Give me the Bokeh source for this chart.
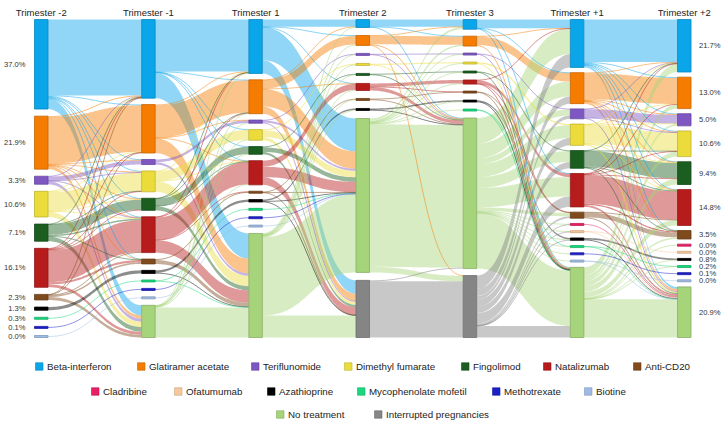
import numpy as np
from bokeh.plotting import figure
from bokeh.models import Range1d, ColumnDataSource
from bokeh.embed import file_html
from bokeh.resources import INLINE
from bokeh.core.properties import value

# ---------------- data ----------------
col_titles = ["Trimester -2", "Trimester -1", "Trimester 1", "Trimester 2",
              "Trimester 3", "Trimester +1", "Trimester +2"]

keys = ["BI", "GA", "TF", "DF", "FG", "NZ", "AC", "CL", "OF", "AZ", "MM", "MT", "BT", "NT", "IP"]
names = ["Beta-interferon", "Glatiramer acetate", "Teriflunomide", "Dimethyl fumarate",
         "Fingolimod", "Natalizumab", "Anti-CD20", "Cladribine", "Ofatumumab",
         "Azathioprine", "Mycophenolate mofetil", "Methotrexate", "Biotine",
         "No treatment", "Interrupted pregnancies"]
colors = ["#0ba5ea", "#f57c00", "#7e57c2", "#ebdc3b", "#1b5e20", "#b71c1c", "#7f4a1c",
          "#e91e63", "#f6c89b", "#000000", "#19d77c", "#1b1fc8", "#9dbbe3",
          "#a6d47b", "#858585"]

# node values (% of pregnancies) per trimester
t_m2 = dict(BI=37.0, GA=21.9, TF=3.3, DF=10.6, FG=7.1, NZ=16.1, AC=2.3, AZ=1.3, MM=0.3, MT=0.1, BT=0.02)
t_m1 = dict(BI=32.5, GA=20.0, TF=2.1, DF=8.6, FG=5.0, NZ=14.8, AC=2.0, AZ=1.3, MM=0.3, MT=0.1, BT=0.02, NT=13.3)
t_1 = dict(BI=22.3, GA=14.0, TF=1.3, DF=4.4, FG=3.2, NZ=10.0, AC=0.5, AZ=1.0, MM=0.2, MT=0.1, BT=0.02, NT=43.0)
t_2 = dict(BI=3.3, GA=4.1, TF=0.3, DF=0.5, FG=0.4, NZ=2.9, AC=0.5, AZ=0.8, NT=63.6, IP=23.6)
t_3 = dict(BI=4.0, GA=4.1, TF=0.3, DF=0.6, FG=0.3, NZ=1.7, AC=0.3, AZ=0.7, MM=0.2, NT=62.2, IP=25.6)
t_p1 = dict(BI=19.8, GA=12.8, TF=4.1, DF=8.8, FG=7.3, NZ=13.8, AC=2.5, CL=0.3, OF=0.3, AZ=1.0,
            MM=0.2, MT=0.1, BT=0.05, NT=29.0)
t_p2 = dict(BI=21.7, GA=13.0, TF=5.0, DF=10.6, FG=9.4, NZ=14.8, AC=3.5, CL=0.02, OF=0.02, AZ=0.8,
            MM=0.2, MT=0.1, BT=0.02, NT=20.9)

# flows between consecutive trimesters: (from, to, %)
f_m2_m1 = [("BI", "BI", 31.4), ("BI", "GA", 0.3), ("BI", "TF", 0.2), ("BI", "DF", 0.3), ("BI", "FG", 0.2),
           ("BI", "NZ", 0.3), ("BI", "AC", 0.1), ("BI", "NT", 4.2),
           ("GA", "BI", 0.4), ("GA", "GA", 19.2), ("GA", "TF", 0.2), ("GA", "DF", 0.3), ("GA", "FG", 0.2),
           ("GA", "NZ", 0.2), ("GA", "AC", 0.1), ("GA", "NT", 1.3),
           ("TF", "BI", 0.1), ("TF", "TF", 1.7), ("TF", "DF", 0.1), ("TF", "NZ", 0.1), ("TF", "NT", 1.3),
           ("DF", "BI", 0.2), ("DF", "GA", 0.2), ("DF", "DF", 7.6), ("DF", "FG", 0.2), ("DF", "NZ", 0.2),
           ("DF", "NT", 2.2),
           ("FG", "BI", 0.1), ("FG", "DF", 0.1), ("FG", "FG", 4.2), ("FG", "NZ", 0.6), ("FG", "AC", 0.2),
           ("FG", "NT", 1.9),
           ("NZ", "BI", 0.2), ("NZ", "GA", 0.2), ("NZ", "DF", 0.2), ("NZ", "FG", 0.2), ("NZ", "NZ", 13.2),
           ("NZ", "AC", 0.9), ("NZ", "NT", 1.2),
           ("AC", "BI", 0.1), ("AC", "GA", 0.1), ("AC", "NZ", 0.2), ("AC", "AC", 0.7), ("AC", "NT", 1.2),
           ("AZ", "AZ", 1.3), ("MM", "MM", 0.3), ("MT", "MT", 0.1), ("BT", "BT", 0.02)]

f_m1_1 = [("BI", "BI", 21.5), ("BI", "GA", 0.2), ("BI", "DF", 0.1), ("BI", "FG", 0.1), ("BI", "NZ", 0.2),
          ("BI", "NT", 10.4),
          ("GA", "BI", 0.3), ("GA", "GA", 13.4), ("GA", "TF", 0.1), ("GA", "NZ", 0.1), ("GA", "NT", 6.1),
          ("TF", "TF", 1.1), ("TF", "NT", 1.0),
          ("DF", "BI", 0.1), ("DF", "DF", 4.1), ("DF", "NZ", 0.1), ("DF", "NT", 4.3),
          ("FG", "BI", 0.1), ("FG", "GA", 0.1), ("FG", "FG", 3.0), ("FG", "NZ", 0.1), ("FG", "NT", 1.7),
          ("NZ", "BI", 0.1), ("NZ", "GA", 0.2), ("NZ", "NZ", 9.3), ("NZ", "AC", 0.1), ("NZ", "NT", 5.1),
          ("AC", "AC", 0.4), ("AC", "NT", 1.6),
          ("AZ", "AZ", 1.0), ("AZ", "NT", 0.3),
          ("MM", "MM", 0.2), ("MM", "NT", 0.1), ("MT", "MT", 0.1), ("BT", "BT", 0.02),
          ("NT", "BI", 0.2), ("NT", "GA", 0.1), ("NT", "TF", 0.1), ("NT", "DF", 0.2), ("NT", "FG", 0.1),
          ("NT", "NZ", 0.2), ("NT", "NT", 12.4)]

f_1_2 = [("BI", "BI", 3.0), ("BI", "GA", 0.1), ("BI", "NZ", 0.1), ("BI", "NT", 13.6), ("BI", "IP", 5.5),
         ("GA", "BI", 0.1), ("GA", "GA", 3.6), ("GA", "NZ", 0.1), ("GA", "NT", 7.2), ("GA", "IP", 3.0),
         ("TF", "TF", 0.2), ("TF", "NT", 0.8), ("TF", "IP", 0.3),
         ("DF", "DF", 0.4), ("DF", "NT", 2.7), ("DF", "IP", 1.3),
         ("FG", "FG", 0.3), ("FG", "NT", 1.9), ("FG", "IP", 1.0),
         ("NZ", "NZ", 2.5), ("NZ", "NT", 4.3), ("NZ", "IP", 3.2),
         ("AC", "AC", 0.3), ("AC", "NT", 0.1), ("AC", "IP", 0.1),
         ("AZ", "AZ", 0.6), ("AZ", "NT", 0.3), ("AZ", "IP", 0.1),
         ("MM", "NT", 0.2), ("MT", "NT", 0.1), ("BT", "NT", 0.02),
         ("NT", "BI", 0.2), ("NT", "GA", 0.4), ("NT", "TF", 0.1), ("NT", "DF", 0.1), ("NT", "FG", 0.1),
         ("NT", "NZ", 0.2), ("NT", "AC", 0.2), ("NT", "AZ", 0.2), ("NT", "NT", 32.4), ("NT", "IP", 9.1)]

f_2_3 = [("BI", "BI", 3.0), ("BI", "GA", 0.1), ("BI", "NT", 0.2),
         ("GA", "BI", 0.1), ("GA", "GA", 3.5), ("GA", "NT", 0.4), ("GA", "IP", 0.1),
         ("TF", "TF", 0.2), ("TF", "NT", 0.1),
         ("DF", "DF", 0.4), ("DF", "NT", 0.1),
         ("FG", "FG", 0.2), ("FG", "NT", 0.2),
         ("NZ", "NZ", 1.4), ("NZ", "AC", 0.1), ("NZ", "NT", 1.4),
         ("AC", "AC", 0.2), ("AC", "NT", 0.3),
         ("AZ", "AZ", 0.6), ("AZ", "NT", 0.2),
         ("NT", "BI", 0.9), ("NT", "GA", 0.5), ("NT", "TF", 0.1), ("NT", "DF", 0.2), ("NT", "FG", 0.1),
         ("NT", "NZ", 0.3), ("NT", "AZ", 0.1), ("NT", "MM", 0.2), ("NT", "NT", 58.9), ("NT", "IP", 2.3),
         ("IP", "NT", 0.4), ("IP", "IP", 23.2)]

f_3_p1 = [("BI", "BI", 3.6), ("BI", "GA", 0.1), ("BI", "NZ", 0.1), ("BI", "NT", 0.2),
          ("GA", "BI", 0.1), ("GA", "GA", 3.6), ("GA", "NT", 0.4),
          ("TF", "TF", 0.2), ("TF", "NT", 0.1),
          ("DF", "DF", 0.5), ("DF", "NT", 0.1),
          ("FG", "FG", 0.2), ("FG", "NT", 0.1),
          ("NZ", "BI", 0.1), ("NZ", "NZ", 1.4), ("NZ", "AC", 0.1), ("NZ", "NT", 0.1),
          ("AC", "AC", 0.2), ("AC", "NT", 0.1),
          ("AZ", "AZ", 0.6), ("AZ", "NT", 0.1),
          ("MM", "MM", 0.1), ("MM", "NT", 0.1),
          ("NT", "BI", 10.5), ("NT", "GA", 6.1), ("NT", "TF", 2.5), ("NT", "DF", 5.3), ("NT", "FG", 4.5),
          ("NT", "NZ", 8.0), ("NT", "AC", 1.4), ("NT", "CL", 0.2), ("NT", "OF", 0.2), ("NT", "AZ", 0.3),
          ("NT", "MM", 0.1), ("NT", "MT", 0.1), ("NT", "BT", 0.05), ("NT", "NT", 22.95),
          ("IP", "BI", 5.5), ("IP", "GA", 3.0), ("IP", "TF", 1.4), ("IP", "DF", 3.0), ("IP", "FG", 2.6),
          ("IP", "NZ", 4.3), ("IP", "AC", 0.8), ("IP", "CL", 0.1), ("IP", "OF", 0.1), ("IP", "AZ", 0.1),
          ("IP", "NT", 4.7)]

f_p1_p2 = [("BI", "BI", 17.6), ("BI", "GA", 0.3), ("BI", "TF", 0.2), ("BI", "DF", 0.3), ("BI", "FG", 0.2),
           ("BI", "NZ", 0.2), ("BI", "AC", 0.1), ("BI", "NT", 0.9),
           ("GA", "BI", 0.2), ("GA", "GA", 10.8), ("GA", "TF", 0.3), ("GA", "DF", 0.3), ("GA", "FG", 0.1),
           ("GA", "NZ", 0.1), ("GA", "AC", 0.1), ("GA", "NT", 0.9),
           ("TF", "BI", 0.1), ("TF", "TF", 3.6), ("TF", "DF", 0.1), ("TF", "NT", 0.3),
           ("DF", "BI", 0.2), ("DF", "GA", 0.1), ("DF", "TF", 0.1), ("DF", "DF", 7.6), ("DF", "FG", 0.2),
           ("DF", "NZ", 0.1), ("DF", "NT", 0.5),
           ("FG", "BI", 0.1), ("FG", "DF", 0.1), ("FG", "FG", 6.4), ("FG", "NZ", 0.3), ("FG", "AC", 0.1),
           ("FG", "NT", 0.3),
           ("NZ", "BI", 0.2), ("NZ", "GA", 0.1), ("NZ", "DF", 0.2), ("NZ", "FG", 0.2), ("NZ", "NZ", 11.8),
           ("NZ", "AC", 0.5), ("NZ", "NT", 0.8),
           ("AC", "NZ", 0.1), ("AC", "AC", 2.0), ("AC", "NT", 0.4),
           ("CL", "NT", 0.3), ("OF", "OF", 0.02), ("OF", "NT", 0.28),
           ("AZ", "AZ", 0.7), ("AZ", "NT", 0.3),
           ("MM", "MM", 0.1), ("MM", "NT", 0.1), ("MT", "MT", 0.1),
           ("BT", "BT", 0.02), ("BT", "NT", 0.03),
           ("NT", "BI", 3.3), ("NT", "GA", 1.7), ("NT", "TF", 0.8), ("NT", "DF", 2.0), ("NT", "FG", 2.3),
           ("NT", "NZ", 2.2), ("NT", "AC", 0.7), ("NT", "CL", 0.02), ("NT", "AZ", 0.1), ("NT", "MM", 0.1),
           ("NT", "NT", 15.78)]

node_cols = [t_m2, t_m1, t_1, t_2, t_3, t_p1, t_p2]
transitions = [f_m2_m1, f_m1_1, f_1_2, f_2_3, f_3_p1, f_p1_p2]

# legend rows
legend_rows = [["BI", "GA", "TF", "DF", "FG", "NZ", "AC"],
               ["CL", "OF", "AZ", "MM", "MT", "BT"],
               ["NT", "IP"]]

# ---------------- layout (page pixels -> data units) ----------------
W, H = 724, 424
K = 2.42            # px per percent
TOP = 19.0          # page y of node tops
SPAN_PX = 318.0     # node column height in px
X0 = 40.75          # page x of first column center
STEP = 107.17       # px between columns
NW = 13.5           # node width px


def px2x(px):
    return (px - X0) / STEP


def px2y(py):
    return (py - TOP) / K


SPAN = SPAN_PX / K
MINH = 2.0 / K
HW = NW / 2 / STEP
FONT = value("Liberation Sans")

p = figure(width=W, height=H, output_backend="svg", toolbar_location=None,
           x_range=Range1d(px2x(0), px2x(W)), y_range=Range1d(px2y(H), px2y(0)),
           x_axis_location=None, y_axis_location=None, min_border=0)
p.grid.visible = False
p.outline_line_color = None

order = {k: i for i, k in enumerate(keys)}
col_of = dict(zip(keys, colors))


def darker(c, f=0.82):
    r, g, b = int(c[1:3], 16), int(c[3:5], 16), int(c[5:7], 16)
    return "#%02x%02x%02x" % (int(r * f), int(g * f), int(b * f))


layout = []
for nodes in node_cols:
    ks = [k for k in keys if k in nodes]
    hs = [max(nodes[k], MINH) for k in ks]
    gap = (SPAN - sum(hs)) / (len(ks) - 1)
    y = 0.0
    pos = {}
    for k, h in zip(ks, hs):
        pos[k] = (y, h, nodes[k])
        y += h + gap
    layout.append(pos)

# ---------------- links ----------------
tt = np.linspace(0, 1, 48)
b0 = (1 - tt) ** 3 + 3 * (1 - tt) ** 2 * tt
b1 = 3 * (1 - tt) * tt ** 2 + tt ** 3
band = dict(xs=[], ys=[], c=[])
thin = dict(xs=[], ys=[], c=[], w=[])
for c, flows in enumerate(transitions):
    src, dst = layout[c], layout[c + 1]
    x0, x1 = c + HW, c + 1 - HW
    xm = (x0 + x1) / 2
    bx = (1 - tt) ** 3 * x0 + 3 * (1 - tt) ** 2 * tt * xm + 3 * (1 - tt) * tt ** 2 * xm + tt ** 3 * x1
    s_cur = {k: v[0] + (v[1] - v[2]) / 2 for k, v in src.items()}
    t_cur = {k: v[0] + (v[1] - v[2]) / 2 for k, v in dst.items()}
    sy, ty = {}, {}
    for i in sorted(range(len(flows)), key=lambda i: (order[flows[i][0]], order[flows[i][1]])):
        s, t, v = flows[i]
        sy[i] = s_cur[s]
        s_cur[s] += v
    for i in sorted(range(len(flows)), key=lambda i: (order[flows[i][1]], order[flows[i][0]])):
        s, t, v = flows[i]
        ty[i] = t_cur[t]
        t_cur[t] += v
    for i, (s, t, v) in enumerate(flows):
        if v * K >= 1.4:
            top = sy[i] * b0 + ty[i] * b1
            bot = (sy[i] + v) * b0 + (ty[i] + v) * b1
            band["xs"].append(np.concatenate([bx, bx[::-1]]))
            band["ys"].append(np.concatenate([top, bot[::-1]]))
            band["c"].append(col_of[s])
        else:
            mid = (sy[i] + v / 2) * b0 + (ty[i] + v / 2) * b1
            thin["xs"].append(bx)
            thin["ys"].append(mid)
            thin["c"].append(col_of[s])
            thin["w"].append(max(v * K, 0.9))

p.patches("xs", "ys", fill_color="c", fill_alpha=0.45, line_color=None,
          source=ColumnDataSource(band))
p.multi_line("xs", "ys", line_color="c", line_alpha=0.55, line_width="w",
             source=ColumnDataSource(thin))

# ---------------- nodes ----------------
nd = dict(l=[], r=[], t=[], b=[], c=[], lc=[])
for c, pos in enumerate(layout):
    for k, (y0, h, v) in pos.items():
        nd["l"].append(c - HW)
        nd["r"].append(c + HW)
        nd["t"].append(y0)
        nd["b"].append(y0 + h)
        nd["c"].append(col_of[k])
        nd["lc"].append(darker(col_of[k]))
p.quad(left="l", right="r", top="t", bottom="b", fill_color="c", line_color="lc",
       line_width=0.8, source=ColumnDataSource(nd))

# ---------------- labels ----------------
for c, align, dx in [(0, "right", -(HW + 9 / STEP)), (6, "left", HW + 8 / STEP)]:
    pos = layout[c]
    ks = list(pos.keys())
    p.text(x=[c + dx] * len(ks), y=[pos[k][0] + pos[k][1] / 2 for k in ks],
           text=["%.1f%%" % pos[k][2] for k in ks], text_align=align, text_baseline="middle",
           text_font=FONT, text_font_size="7.6px", text_color="#333333")

p.text(x=list(range(len(col_titles))), y=[px2y(12)] * len(col_titles), text=col_titles,
       text_align="center", text_baseline="alphabetic", text_font=FONT,
       text_font_size="9.5px", text_color="#222222")

# ---------------- legend ----------------
row_x = [[35, 137, 251, 344, 461, 543, 633], [91, 174, 267, 357, 492, 584], [276, 374]]
row_y = [366, 391, 414]
SQ = 7.5
lg = dict(x=[], y=[], c=[], lc=[], tx=[], t=[])
for row, xs_, yy in zip(legend_rows, row_x, row_y):
    for k, xp in zip(row, xs_):
        lg["x"].append(px2x(xp + SQ / 2))
        lg["y"].append(px2y(yy))
        lg["c"].append(col_of[k])
        lg["lc"].append(darker(col_of[k]))
        lg["tx"].append(px2x(xp + SQ + 4))
        lg["t"].append(names[order[k]])
lsrc = ColumnDataSource(lg)
p.scatter("x", "y", marker="square", size=SQ, fill_color="c", line_color="lc", line_width=0.6,
          source=lsrc)
p.text("tx", "y", text="t", text_align="left", text_baseline="middle", text_font=FONT,
       text_font_size="9.75px", text_color="#222222", source=lsrc)

open("out.html", "w").write(file_html(p, INLINE))
